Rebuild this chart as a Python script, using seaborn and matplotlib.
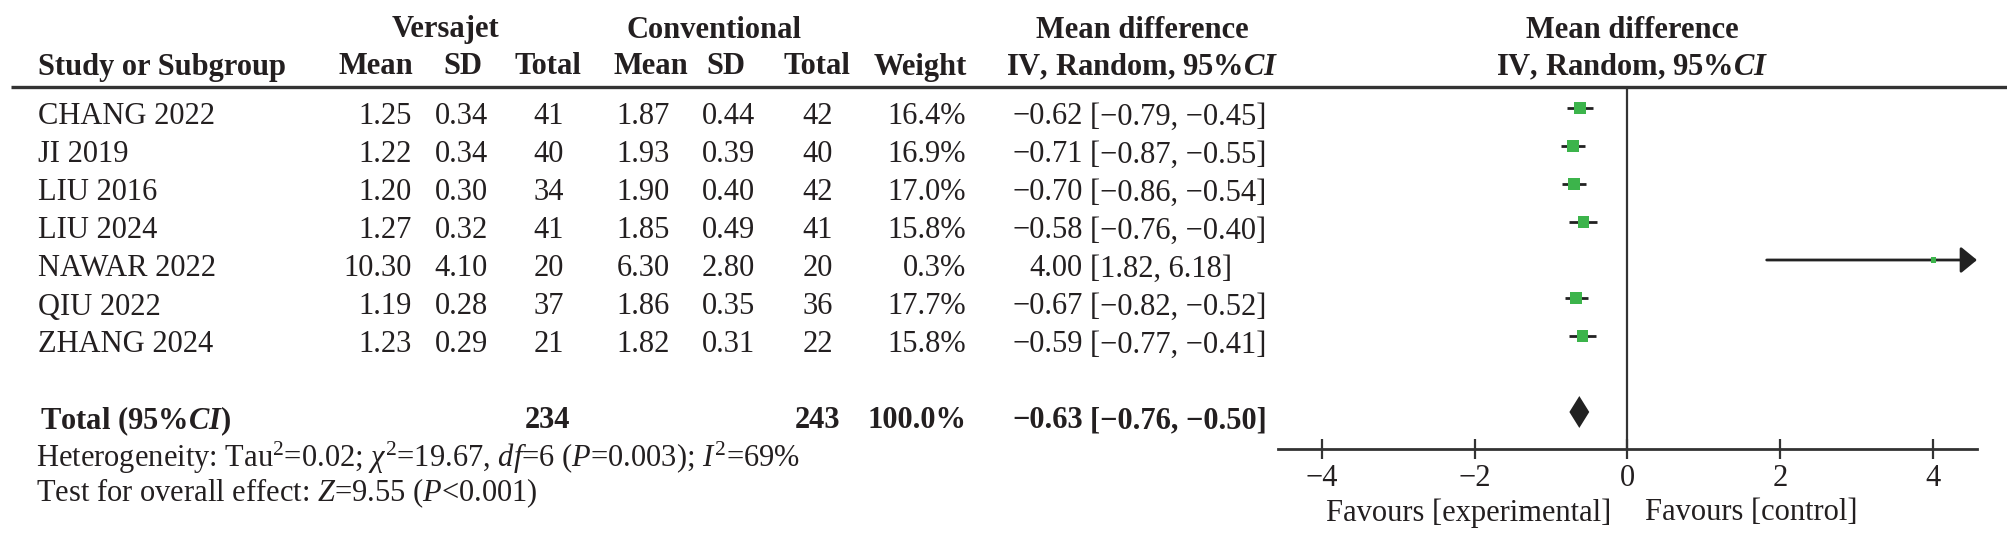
import matplotlib
matplotlib.use("Agg")
import matplotlib.pyplot as plt
import seaborn as sns
import pandas as pd

# ---- data ----
studies = ["CHANG 2022", "JI 2019", "LIU 2016", "LIU 2024", "NAWAR 2022", "QIU 2022", "ZHANG 2024"]
v_mean = [1.25, 1.22, 1.20, 1.27, 10.30, 1.19, 1.23]
v_sd = [0.34, 0.34, 0.30, 0.32, 4.10, 0.28, 0.29]
v_n = [41, 40, 34, 41, 20, 37, 21]
c_mean = [1.87, 1.93, 1.90, 1.85, 6.30, 1.86, 1.82]
c_sd = [0.44, 0.39, 0.40, 0.49, 2.80, 0.35, 0.31]
c_n = [42, 40, 42, 41, 20, 36, 22]
weight = [16.4, 16.9, 17.0, 15.8, 0.3, 17.7, 15.8]
md = [-0.62, -0.71, -0.70, -0.58, 4.00, -0.67, -0.59]
md_lo = [-0.79, -0.87, -0.86, -0.76, 1.82, -0.82, -0.77]
md_hi = [-0.45, -0.55, -0.54, -0.40, 6.18, -0.52, -0.41]

total_v_n = 234
total_c_n = 243
total_weight = 100.0
total_md = -0.63
total_lo = -0.76
total_hi = -0.50

x_ticks = [-4, -2, 0, 2, 4]

sns.set_style("white")
plt.rcParams['font.family'] = ['Liberation Serif', 'DejaVu Serif']
plt.rcParams['mathtext.fontset'] = 'custom'
plt.rcParams['mathtext.rm'] = 'Liberation Serif'
plt.rcParams['mathtext.it'] = 'Liberation Serif:italic'
plt.rcParams['mathtext.bf'] = 'Liberation Serif:bold:italic'

TXT = "#231f20"
GREEN = "#3cb44b"
FS = 22


def fmt(v):
    return f"{v:.2f}".replace("-", "\u2212")


df = pd.DataFrame({"study": studies, "md": md, "lo": md_lo, "hi": md_hi,
                   "weight": weight})
df["row"] = range(len(df))

fig = plt.figure(figsize=(20.08, 5.44), dpi=100)

# table layer in pixel coordinates
tab = fig.add_axes([0, 0, 1, 1])
tab.set_xlim(0, 2008)
tab.set_ylim(544, 0)
tab.axis("off")

# forest axis: rows in data units (row i sits at 108 + 38*i px)
W, H = 2008, 544
x0, x1, ytop, ybot = 1278, 1977, 87, 449
ax = fig.add_axes([x0 / W, (H - ybot) / H, (x1 - x0) / W, (ybot - ytop) / H])
ax.set_facecolor("none")
xmin, xmax = -4.57, 4.57
ax.set_xlim(xmin, xmax)
ax.set_ylim((ybot - 108) / 38, (ytop - 108) / 38)

# header rule
tab.plot([11, 2008], [87, 87], color="#333333", lw=2.4, solid_capstyle="butt")

# headers
hb = dict(fontsize=FS, fontweight="bold", color=TXT, va="center")
tab.text(446, 30, "Versajet", ha="center", **hb)
tab.text(714, 30, "Conventional", ha="center", **hb)
tab.text(1142, 30, "Mean difference", ha="center", **hb)
tab.text(1632, 30, "Mean difference", ha="center", **hb)
tab.text(38, 67, "Study or Subgroup", ha="left", **hb)
for xc, lab in [(376, "Mean"), (463, "SD"), (548, "Total"),
                (651, "Mean"), (726, "SD"), (817, "Total")]:
    tab.text(xc, 67, lab, ha="center", **hb)
tab.text(967, 67, "Weight", ha="right", **hb)
tab.text(1142, 67, r"IV, Random, 95%$\mathbf{CI}$", ha="center", **hb)
tab.text(1632, 67, r"IV, Random, 95%$\mathbf{CI}$", ha="center", **hb)

# study rows
tr = dict(fontsize=FS, color=TXT, va="center")
for i in range(len(studies)):
    y = 117 + 38 * i
    tab.text(38, y, studies[i], ha="left", **tr)
    tab.text(412, y, fmt(v_mean[i]), ha="right", **tr)
    tab.text(488, y, fmt(v_sd[i]), ha="right", **tr)
    tab.text(549, y, str(v_n[i]), ha="center", **tr)
    tab.text(670, y, fmt(c_mean[i]), ha="right", **tr)
    tab.text(755, y, fmt(c_sd[i]), ha="right", **tr)
    tab.text(818, y, str(c_n[i]), ha="center", **tr)
    tab.text(966, y, f"{weight[i]:.1f}%", ha="right", **tr)
    tab.text(1083, y, fmt(md[i]), ha="right", **tr)
    tab.text(1090, y, f"[{fmt(md_lo[i])}, {fmt(md_hi[i])}]", ha="left", **tr)

# total row
yt = 421
tab.text(40, yt, r"Total (95%$\mathbf{CI}$)", ha="left", **hb)
tab.text(548, yt, str(total_v_n), ha="center", **hb)
tab.text(818, yt, str(total_c_n), ha="center", **hb)
tab.text(967, yt, f"{total_weight:.1f}%", ha="right", **hb)
tab.text(1083, yt, fmt(total_md), ha="right", **hb)
tab.text(1090, yt, f"[{fmt(total_lo)}, {fmt(total_hi)}]", ha="left", **hb)

tab.text(36, 458, r"Heterogeneity: Tau$^2$=0.02; $\chi^2$=19.67, $df$=6 ($P$=0.003); $I^2$=69%",
         ha="left", **tr)
tab.text(36, 493, r"Test for overall effect: $Z$=9.55 ($P$<0.001)", ha="left", **tr)

# forest plot
ax.axvline(0, color="#333333", lw=1.6, zorder=1)
for _, r in df.iterrows():
    lo_c = max(r["lo"], xmin)
    if r["hi"] > xmax:
        ax.annotate("", xy=(xmax, r["row"]), xytext=(lo_c, r["row"]),
                    arrowprops=dict(arrowstyle="-|>,head_length=0.55,head_width=0.45",
                                    color="#222222", lw=2, mutation_scale=18,
                                    shrinkA=0, shrinkB=0), zorder=2)
    else:
        ax.hlines(r["row"], lo_c, r["hi"], color="#222222", lw=2, zorder=2)

sns.scatterplot(data=df, x="md", y="row", size="weight", sizes=(16, 72),
                marker="s", color=GREEN, edgecolor="none", legend=False,
                ax=ax, zorder=5)

# pooled diamond
row_total = len(studies) + 1
h = 0.42
ax.fill([total_lo, total_md, total_hi, total_md],
        [row_total, row_total - h, row_total, row_total + h],
        color="#222222", lw=0, zorder=3)

ax.set_xlabel("")
ax.set_ylabel("")
ax.set_yticks([])
ax.set_xticks(x_ticks)
ax.tick_params(axis="x", bottom=True, direction="inout", length=15, width=1.6,
               colors="#333333", labelsize=FS, labelcolor=TXT, pad=3)
for s in ["left", "right", "top"]:
    ax.spines[s].set_visible(False)
ax.spines["bottom"].set_color("#333333")
ax.spines["bottom"].set_linewidth(2)

# favours labels
tab.text(1611, 513, "Favours [experimental]", ha="right", **tr)
tab.text(1645, 513, "Favours [control]", ha="left", **tr)

fig.savefig("out.png", dpi=100)
